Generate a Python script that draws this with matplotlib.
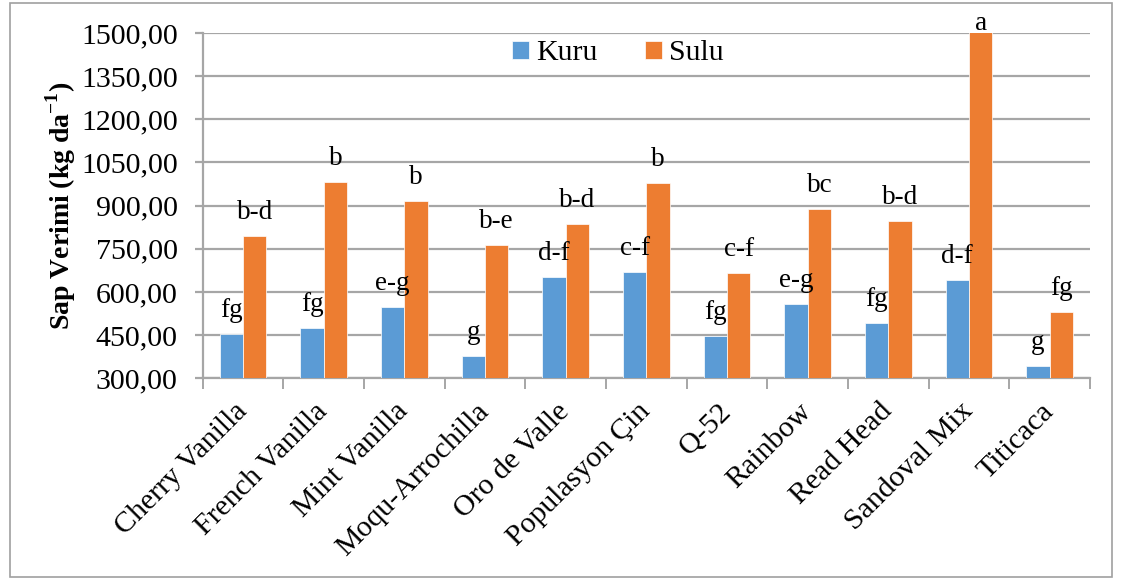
import numpy as np
import matplotlib.pyplot as plt
from matplotlib.patches import Rectangle

plt.rcParams['font.family'] = ['Liberation Serif', 'DejaVu Serif']
plt.rcParams['mathtext.fontset'] = 'custom'
plt.rcParams['mathtext.rm'] = 'Liberation Serif'
plt.rcParams['mathtext.bf'] = 'Liberation Serif:bold'

cesitler = ['Cherry Vanilla', 'French Vanilla', 'Mint Vanilla', 'Moqu-Arrochilla',
            'Oro de Valle', 'Populasyon Çin', 'Q-52', 'Rainbow', 'Read Head',
            'Sandoval Mix', 'Titicaca']
kuru = [453, 474, 547, 376, 651, 669, 446, 557, 491, 641, 342]
sulu = [794, 982, 916, 763, 836, 978, 665, 888, 846, 1503, 530]
kuru_harf = ['fg', 'fg', 'e-g', 'g', 'd-f', 'c-f', 'fg', 'e-g', 'fg', 'd-f', 'g']
sulu_harf = ['b-d', 'b', 'b', 'b-e', 'b-d', 'b', 'c-f', 'bc', 'b-d', 'a', 'fg']
yticks = [300, 450, 600, 750, 900, 1050, 1200, 1350, 1500]

mavi = '#5B9BD5'
turuncu = '#ED7D31'
gri = '#A6A6A6'

fig = plt.figure(figsize=(11.26, 5.8), dpi=100)
ax = fig.add_axes([0.180, 0.348, 0.788, 0.595])
fig.patches.append(Rectangle((0.009, 0.005), 0.979, 0.99, transform=fig.transFigure,
                             fill=False, edgecolor='#A0A0A0', lw=1.2))

x = np.arange(len(cesitler))
w = 0.29
b1 = ax.bar(x - w / 2, kuru, w, color=mavi, edgecolor='white', lw=0.5, label='Kuru', zorder=3)
b2 = ax.bar(x + w / 2, sulu, w, color=turuncu, edgecolor='white', lw=0.5, label='Sulu', zorder=3)

ymax = 1500
for bars, harfler in [(b1, kuru_harf), (b2, sulu_harf)]:
    for r, h in zip(bars, harfler):
        v = r.get_height()
        off = 7 if v >= ymax else 17
        ax.annotate(h, (r.get_x() + r.get_width() / 2, min(v, ymax)), xytext=(0, off),
                    textcoords='offset points', ha='center', va='center',
                    fontsize=19.5, annotation_clip=False)

ax.set_ylim(300, ymax)
ax.set_xlim(-0.5, len(cesitler) - 0.5)
ax.set_yticks(yticks)
ax.set_yticklabels([f'{t:.2f}'.replace('.', ',') for t in yticks], fontsize=21.5)
ax.yaxis.grid(True, color=gri, lw=1.6, zorder=0)
ax.tick_params(axis='y', length=6, width=1.6, color=gri, pad=12)

ax.set_xticks(x)
ax.set_xticklabels(cesitler, rotation=45, ha='right', va='center',
                   rotation_mode='anchor', fontsize=21.5)
ax.tick_params(axis='x', length=0, pad=21)
ax.set_xticks(np.arange(len(cesitler) + 1) - 0.5, minor=True)
ax.tick_params(axis='x', which='minor', length=8, width=1.4, color=gri)

for s in ['top', 'right']:
    ax.spines[s].set_visible(False)
for s in ['left', 'bottom']:
    ax.spines[s].set_color(gri)
    ax.spines[s].set_linewidth(1.6)

ax.set_ylabel(r'Sap Verimi (kg da$^{\mathbf{-1}}$)', fontsize=20, fontweight='bold', labelpad=2)

ax.legend(loc='center', bbox_to_anchor=(0.468, 0.942), ncol=2, frameon=False,
          fontsize=21.5, handlelength=0.55, handleheight=0.55, handletextpad=0.25,
          columnspacing=1.6)

fig.savefig('out.png', dpi=100)
